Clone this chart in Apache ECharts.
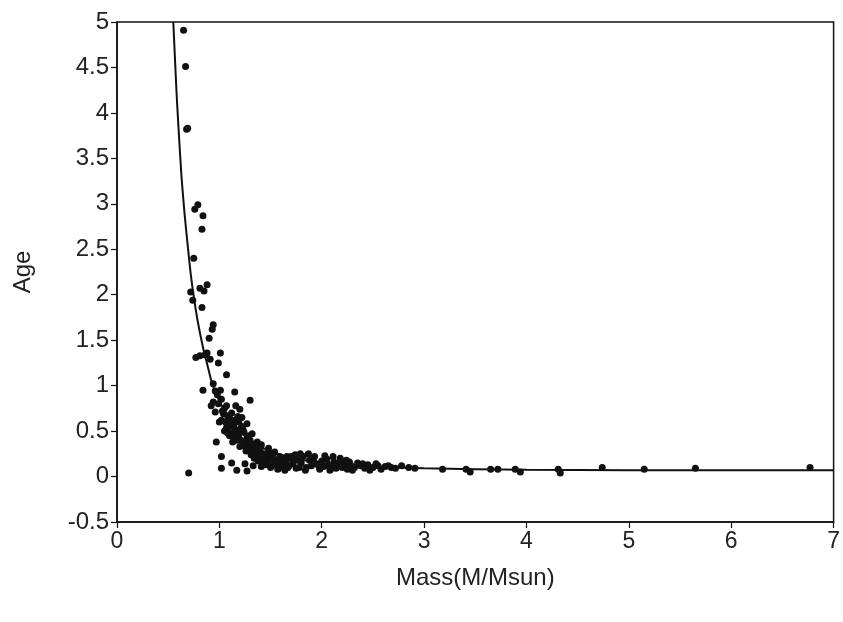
<!DOCTYPE html>
<html>
<head>
<meta charset="utf-8">
<script src="https://cdn.jsdelivr.net/npm/echarts@6/dist/echarts.min.js"></script>
<style>
html,body{margin:0;padding:0;background:#fff;}
#chart{width:843px;height:622px;}
</style>
</head>
<body>
<div id="chart"></div>
<script>
// Observed stars: mass (M/Msun) and age
const starMass = [
  0.65,0.67,0.68,0.69,0.76,0.79,0.84,0.83,0.75,
  0.72,0.74,0.81,0.85,0.88,0.83,0.94,0.93,0.90,
  0.77,0.81,0.86,0.88,0.91,0.99,1.01,1.07,
  0.84,0.94,0.96,1.01,1.15,1.30,
  0.94,1.02,1.07,1.20,0.96,1.04,1.10,1.02,1.19,1.27,1.07,1.15,1.24,1.32,1.10,1.17,1.27,1.37,1.41,1.20,1.32,1.48,1.37,1.54,1.59,1.66,1.72,1.46,1.53,
  0.97,1.02,1.02,1.12,1.17,1.25,1.33,1.41,1.27,0.70,1.45,
  1.00,1.05,1.10,1.12,1.15,1.18,1.22,1.25,1.30,1.35,1.28,1.13,1.08,0.99,1.05,1.16,1.22,1.40,1.43,1.50,1.34,1.38,1.55,1.60,1.63,1.58,0.98,0.92,
  1.03,1.06,1.09,1.11,1.14,1.16,1.19,1.21,1.23,1.26,1.29,1.31,1.33,1.36,1.39,1.12,1.18,1.24,1.08,1.14,1.20,1.26,1.31,1.36,1.42,1.47,1.51,1.56,
  1.45,1.48,1.50,1.52,1.55,1.57,1.60,1.62,1.65,1.67,1.70,1.72,1.75,1.77,1.79,1.61,1.68,1.74,1.64,1.71,1.78,
  1.80,1.82,1.85,1.88,1.90,1.92,1.95,1.98,2.00,2.02,2.05,2.07,2.10,2.11,2.12,2.15,2.18,2.20,2.22,2.24,2.25,2.28,2.32,2.35,2.38,2.42,2.45,2.50,2.55,2.58,2.62,2.68,2.72,2.78,2.85,
  1.84,1.87,1.93,1.97,2.03,2.08,2.14,2.17,2.27,2.30,2.40,2.47,2.53,2.65,
  2.91,3.18,3.41,3.45,3.65,3.72,3.89,3.94,4.31,4.33,4.74,5.15,5.65,6.77
];
const starAge = [
  4.91,4.51,3.82,3.83,2.94,2.99,2.87,2.72,2.40,
  2.03,1.94,2.07,2.04,2.11,1.86,1.67,1.62,1.52,
  1.31,1.33,1.34,1.36,1.29,1.25,1.36,1.12,
  0.95,1.02,0.94,0.95,0.93,0.84,
  0.82,0.85,0.78,0.74,0.71,0.69,0.64,0.62,0.60,0.58,0.54,0.51,0.49,0.47,0.45,0.40,0.42,0.38,0.35,0.33,0.31,0.31,0.25,0.27,0.22,0.22,0.18,0.20,0.13,
  0.38,0.22,0.09,0.15,0.07,0.14,0.12,0.11,0.06,0.04,0.13,
  0.60,0.50,0.55,0.70,0.62,0.50,0.55,0.38,0.40,0.33,0.30,0.38,0.67,0.80,0.75,0.78,0.65,0.28,0.22,0.25,0.20,0.17,0.18,0.15,0.10,0.09,0.90,0.78,
  0.72,0.60,0.58,0.48,0.56,0.44,0.46,0.40,0.52,0.35,0.45,0.36,0.26,0.30,0.24,0.62,0.66,0.34,0.48,0.42,0.52,0.28,0.24,0.20,0.18,0.16,0.20,0.13,
  0.25,0.18,0.10,0.22,0.15,0.08,0.20,0.12,0.17,0.10,0.22,0.14,0.09,0.18,0.25,0.16,0.12,0.24,0.07,0.19,0.10,
  0.15,0.22,0.10,0.18,0.12,0.20,0.14,0.08,0.17,0.11,0.19,0.13,0.09,0.22,0.16,0.12,0.20,0.10,0.14,0.18,0.08,0.13,0.10,0.15,0.12,0.09,0.13,0.10,0.12,0.08,0.11,0.10,0.09,0.12,0.10,
  0.07,0.25,0.22,0.12,0.23,0.07,0.09,0.15,0.16,0.07,0.14,0.07,0.14,0.12,
  0.09,0.08,0.08,0.05,0.08,0.08,0.08,0.05,0.08,0.04,0.10,0.08,0.09,0.10
];
// Fitted curve
const fitMass = [0.55,0.58,0.60,0.63,0.66,0.69,0.72,0.75,0.79,0.84,0.88,0.93,1.0,1.1,1.2,1.3,1.4,1.5,1.7,2.0,2.5,3.0,4.0,5.0,7.0];
const fitAge  = [5.0,4.26,3.85,3.30,2.89,2.55,2.23,1.98,1.70,1.42,1.24,1.02,0.83,0.64,0.50,0.40,0.33,0.28,0.21,0.15,0.11,0.09,0.075,0.07,0.07];
// Axis ticks
const xTicks = [0,1,2,3,4,5,6,7];
const yTicks = [-0.5,0,0.5,1,1.5,2,2.5,3,3.5,4,4.5,5];

const stars = starMass.map((m,i)=>[m, starAge[i]]);
const fit = fitMass.map((m,i)=>[m, fitAge[i]]);

const font = '"Liberation Sans", Arial, Helvetica, sans-serif';
const chart = echarts.init(document.getElementById('chart'));
chart.setOption({
  backgroundColor: '#fff',
  animation: false,
  grid: {left:117, right:7, top:22, bottom:100, show:true, borderColor:'#111', borderWidth:1.5, backgroundColor:'#fff'},
  xAxis: {
    type:'value', min:xTicks[0], max:xTicks[xTicks.length-1], interval:1,
    name:'Mass(M/Msun)', nameLocation:'middle', nameGap:44,
    nameTextStyle:{fontFamily:font, fontSize:24, color:'#222'},
    axisLine:{show:true, onZero:false, lineStyle:{color:'#111', width:1.5}},
    axisTick:{show:true, inside:false, length:6, lineStyle:{color:'#111', width:1.2}},
    axisLabel:{fontFamily:font, fontSize:23, color:'#222', margin:8},
    splitLine:{show:false}
  },
  yAxis: {
    type:'value', min:yTicks[0], max:yTicks[yTicks.length-1], interval:0.5,
    name:'Age', nameLocation:'middle', nameGap:82, nameRotate:90,
    nameTextStyle:{fontFamily:font, fontSize:24, color:'#222'},
    axisLine:{show:true, onZero:false, lineStyle:{color:'#111', width:1.5}},
    axisTick:{show:true, inside:false, length:6, lineStyle:{color:'#111', width:1.2}},
    axisLabel:{fontFamily:font, fontSize:24, color:'#222', margin:8},
    splitLine:{show:false}
  },
  series: [
    {type:'scatter', data:stars, symbol:'circle', symbolSize:7, itemStyle:{color:'#111', opacity:1}, z:2},
    {type:'line', data:fit, smooth:0.2, showSymbol:false, lineStyle:{color:'#111', width:2}, clip:true, z:3}
  ]
});
</script>
</body>
</html>
